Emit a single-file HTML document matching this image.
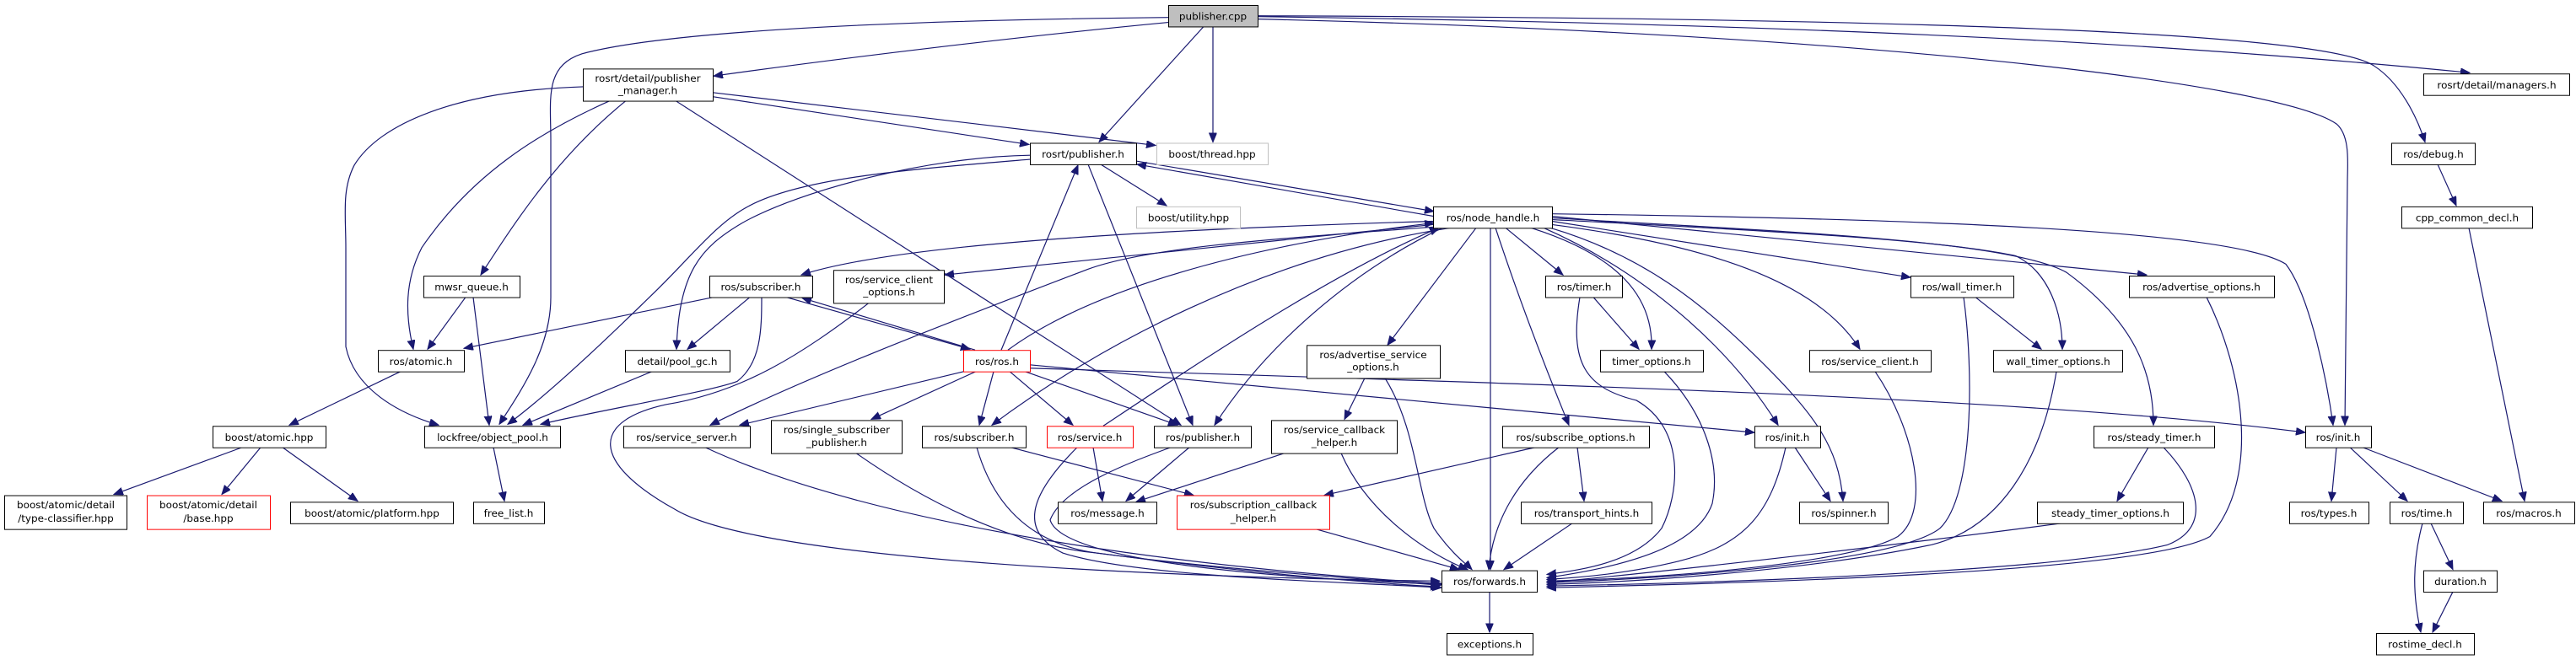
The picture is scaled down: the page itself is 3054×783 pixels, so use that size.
<!DOCTYPE html>
<html><head><meta charset="utf-8"><style>
html,body{margin:0;padding:0;background:#fff;}
svg{display:block;}
text{font-family:"DejaVu Sans","Liberation Sans",sans-serif;font-size:12px;fill:#000;}
.e{fill:none;stroke:#191970;stroke-width:1.2;marker-end:url(#a);}
.n{fill:#fff;stroke:#000;stroke-width:1;}
.r{fill:#fff;stroke:#f00;stroke-width:1;}
.g{fill:#fff;stroke:#bfbfbf;stroke-width:1;}
</style></head><body>
<svg width="3054" height="783" viewBox="0 0 3054 783" xmlns="http://www.w3.org/2000/svg">
<defs><marker id="a" markerUnits="userSpaceOnUse" markerWidth="12" markerHeight="10" refX="11" refY="4.5" orient="auto"><path d="M0,0 L11,4.5 L0,9 z" fill="#191970" stroke="#191970"/></marker></defs>
<g transform="translate(0,6) scale(1,0.979) translate(0,-6)">
<g>
<path class="e" d="M1385,27 C1200,45 1000,70 846,92"/>
<path class="e" d="M1385,21 C1100,24 800,35 690,65 C645,80 653,120 653,170 L653,360 C653,420 620,470 592,514"/>
<path class="e" d="M1427,32 L1303,172"/>
<path class="e" d="M1438,32 L1438,172"/>
<path class="e" d="M1491,20 C2200,30 2600,55 2928,88"/>
<path class="e" d="M1491,19 C2300,22 2760,40 2815,80 C2845,100 2865,140 2875,172"/>
<path class="e" d="M1491,23 C2200,40 2700,100 2770,150 C2787,165 2783,200 2783,220 L2780,515"/>
<path class="e" d="M845,117 L1220,175"/>
<path class="e" d="M845,112 L1370,176"/>
<path class="e" d="M723,122 C640,160 560,210 500,300 C480,340 480,380 490,423"/>
<path class="e" d="M742,122 C660,190 610,270 570,333"/>
<path class="e" d="M691,105 C540,110 450,150 420,200 C405,230 410,260 410,300 L410,420 C420,470 470,500 520,515"/>
<path class="e" d="M801,122 L1400,515"/>
<path class="e" d="M1347,195 L1700,256"/>
<path class="e" d="M1700,262 L1348,199"/>
<path class="e" d="M1221,188 C1100,190 950,230 880,270 C830,300 805,330 802,423"/>
<path class="e" d="M1221,193 C1080,205 950,215 887,250 C850,270 820,310 780,350 C740,390 660,470 602,514"/>
<path class="e" d="M1290,199 L1414,515"/>
<path class="e" d="M1305,199 L1383,249"/>
<path class="e" d="M846,360 L550,422"/>
<path class="e" d="M889,360 L815,423"/>
<path class="e" d="M903,360 C903,400 902,440 874,462 C840,475 720,495 641,514"/>
<path class="e" d="M932,360 L1150,423"/>
<path class="e" d="M1156,424 L951,361"/>
<path class="e" d="M1030,367 C950,430 880,475 790,490 C700,510 700,560 800,617 C900,680 1400,700 1707,704"/>
<path class="e" d="M1699,268 C1300,280 1050,300 950,333"/>
<path class="e" d="M1699,272 L1120,333"/>
<path class="e" d="M1699,275 C1500,290 1360,300 1290,326 C1100,400 950,460 842,515"/>
<path class="e" d="M1195,424 C1280,360 1450,300 1700,270"/>
<path class="e" d="M1720,276 C1500,310 1300,420 1176,515"/>
<path class="e" d="M1710,276 C1600,330 1500,420 1440,515"/>
<path class="e" d="M1308,516 C1420,440 1580,330 1706,276"/>
<path class="e" d="M1750,276 L1645,418"/>
<path class="e" d="M1767,276 L1767,690"/>
<path class="e" d="M1773,276 C1800,360 1830,440 1860,515"/>
<path class="e" d="M1785,276 L1853,333"/>
<path class="e" d="M1815,276 C1920,310 1960,360 1958,423"/>
<path class="e" d="M1830,276 C1950,330 2050,420 2108,515"/>
<path class="e" d="M1838,276 C1950,310 2020,370 2080,430 C2150,500 2180,540 2185,607"/>
<path class="e" d="M1840,272 C2050,300 2160,350 2205,423"/>
<path class="e" d="M1840,268 L2265,336"/>
<path class="e" d="M1840,266 C2100,280 2300,290 2390,310 C2430,330 2445,380 2445,423"/>
<path class="e" d="M1840,264 C2100,280 2380,290 2450,330 C2530,390 2553,450 2553,515"/>
<path class="e" d="M1840,262 L2545,333"/>
<path class="e" d="M1840,259 C2300,265 2650,280 2710,320 C2740,360 2760,470 2766,515"/>
<path class="e" d="M1187,424 L1278,200"/>
<path class="e" d="M1143,450 L877,515"/>
<path class="e" d="M1157,450 L1033,508"/>
<path class="e" d="M1178,450 L1161,515"/>
<path class="e" d="M1197,450 L1272,515"/>
<path class="e" d="M1215,450 L1396,515"/>
<path class="e" d="M1221,442 L2080,524"/>
<path class="e" d="M1221,446 C1800,465 2400,480 2733,524"/>
<path class="e" d="M836,542 C1000,620 1300,680 1707,707"/>
<path class="e" d="M1015,549 C1100,610 1200,660 1300,670 C1450,690 1600,700 1707,709"/>
<path class="e" d="M1158,542 C1180,620 1230,660 1300,670 C1450,690 1600,705 1707,711"/>
<path class="e" d="M1198,542 L1415,600"/>
<path class="e" d="M1296,542 L1307,607"/>
<path class="e" d="M1277,542 C1230,590 1200,640 1260,670 C1350,700 1600,705 1709,712"/>
<path class="e" d="M1410,542 L1335,607"/>
<path class="e" d="M1388,542 C1340,560 1260,590 1245,630 C1260,680 1500,700 1711,708"/>
<path class="e" d="M1523,549 L1347,608"/>
<path class="e" d="M1590,549 C1620,620 1690,670 1740,690"/>
<path class="e" d="M1618,458 L1594,508"/>
<path class="e" d="M1642,458 C1680,520 1680,600 1700,640 C1720,670 1740,685 1745,690"/>
<path class="e" d="M1820,542 L1570,600"/>
<path class="e" d="M1848,542 C1800,580 1770,630 1765,690"/>
<path class="e" d="M1870,542 L1878,607"/>
<path class="e" d="M1864,634 L1783,690"/>
<path class="e" d="M1560,641 L1730,690"/>
<path class="e" d="M1889,360 L1943,423"/>
<path class="e" d="M1873,360 C1860,440 1880,470 1940,485 C2000,520 1990,600 1970,640 C1940,680 1880,690 1834,696"/>
<path class="e" d="M1973,450 C2020,500 2040,560 2030,610 C2010,670 1900,690 1834,700"/>
<path class="e" d="M2128,542 L2170,607"/>
<path class="e" d="M2117,542 C2100,620 2070,660 1990,680 C1930,695 1870,700 1834,702"/>
<path class="e" d="M2223,450 C2270,520 2290,620 2250,650 C2200,680 2000,700 1834,704"/>
<path class="e" d="M2342,360 L2420,423"/>
<path class="e" d="M2328,360 C2340,450 2340,600 2300,640 C2250,680 2000,700 1834,706"/>
<path class="e" d="M2438,450 C2420,560 2370,640 2290,660 C2150,690 1950,705 1834,708"/>
<path class="e" d="M2547,542 L2510,607"/>
<path class="e" d="M2565,542 C2610,590 2620,640 2570,660 C2450,690 2100,705 1834,710"/>
<path class="e" d="M2444,634 C2250,660 2000,690 1834,706"/>
<path class="e" d="M2616,360 C2660,450 2680,580 2620,650 C2550,690 2150,705 1834,712"/>
<path class="e" d="M2890,199 L2912,249"/>
<path class="e" d="M2927,276 L2993,607"/>
<path class="e" d="M2770,542 L2764,607"/>
<path class="e" d="M2786,542 L2854,607"/>
<path class="e" d="M2801,542 L2966,607"/>
<path class="e" d="M2882,634 L2908,690"/>
<path class="e" d="M2872,634 C2860,680 2860,720 2870,766"/>
<path class="e" d="M2908,717 L2884,766"/>
<path class="e" d="M1766,717 L1766,766"/>
<path class="e" d="M552,360 L507,423"/>
<path class="e" d="M561,360 L580,515"/>
<path class="e" d="M475,450 L343,515"/>
<path class="e" d="M287,542 L135,599"/>
<path class="e" d="M309,542 L263,599"/>
<path class="e" d="M335,542 L424,607"/>
<path class="e" d="M585,542 L598,607"/>
<path class="e" d="M773,450 L620,515"/>
</g>
<g>
<rect x="1385.5" y="6.5" width="106" height="26" fill="#bfbfbf" stroke="#000"/><text x="1438" y="24" text-anchor="middle">publisher.cpp</text>
<rect class="n" x="691.5" y="83.5" width="154" height="39"/><text x="768" y="99" text-anchor="middle">rosrt/detail/publisher</text><text x="768" y="114" text-anchor="middle">_manager.h</text>
<rect class="n" x="2873.5" y="89.5" width="173" height="26"/><text x="2960" y="107" text-anchor="middle">rosrt/detail/managers.h</text>
<rect class="n" x="1221.5" y="173.5" width="126" height="26"/><text x="1284" y="191" text-anchor="middle">rosrt/publisher.h</text>
<rect class="g" x="1371.5" y="173.5" width="132" height="26"/><text x="1437" y="191" text-anchor="middle">boost/thread.hpp</text>
<rect class="n" x="2835.5" y="173.5" width="99" height="26"/><text x="2885" y="191" text-anchor="middle">ros/debug.h</text>
<rect class="n" x="1699.5" y="250.5" width="141" height="26"/><text x="1770" y="268" text-anchor="middle">ros/node_handle.h</text>
<rect class="g" x="1347.5" y="250.5" width="123" height="26"/><text x="1409" y="268" text-anchor="middle">boost/utility.hpp</text>
<rect class="n" x="2847.5" y="250.5" width="155" height="26"/><text x="2925" y="268" text-anchor="middle">cpp_common_decl.h</text>
<rect class="n" x="502.5" y="334.5" width="114" height="26"/><text x="559" y="352" text-anchor="middle">mwsr_queue.h</text>
<rect class="n" x="841.5" y="334.5" width="122" height="26"/><text x="902" y="352" text-anchor="middle">ros/subscriber.h</text>
<rect class="n" x="988.5" y="327.5" width="131" height="40"/><text x="1054" y="343" text-anchor="middle">ros/service_client</text><text x="1054" y="358" text-anchor="middle">_options.h</text>
<rect class="n" x="1832.5" y="334.5" width="91" height="26"/><text x="1878" y="352" text-anchor="middle">ros/timer.h</text>
<rect class="n" x="2265.5" y="334.5" width="122" height="26"/><text x="2326" y="352" text-anchor="middle">ros/wall_timer.h</text>
<rect class="n" x="2524.5" y="334.5" width="172" height="26"/><text x="2610" y="352" text-anchor="middle">ros/advertise_options.h</text>
<rect class="n" x="448.5" y="424.5" width="102" height="26"/><text x="499" y="442" text-anchor="middle">ros/atomic.h</text>
<rect class="n" x="741.5" y="424.5" width="124" height="26"/><text x="803" y="442" text-anchor="middle">detail/pool_gc.h</text>
<rect class="r" x="1142.5" y="424.5" width="79" height="26"/><text x="1182" y="442" text-anchor="middle">ros/ros.h</text>
<rect class="n" x="1549.5" y="418.5" width="158" height="40"/><text x="1628" y="434" text-anchor="middle">ros/advertise_service</text><text x="1628" y="449" text-anchor="middle">_options.h</text>
<rect class="n" x="1897.5" y="424.5" width="122" height="26"/><text x="1958" y="442" text-anchor="middle">timer_options.h</text>
<rect class="n" x="2145.5" y="424.5" width="144" height="26"/><text x="2217" y="442" text-anchor="middle">ros/service_client.h</text>
<rect class="n" x="2363.5" y="424.5" width="153" height="26"/><text x="2440" y="442" text-anchor="middle">wall_timer_options.h</text>
<rect class="n" x="252.5" y="516.5" width="134" height="26"/><text x="319" y="534" text-anchor="middle">boost/atomic.hpp</text>
<rect class="n" x="503.5" y="516.5" width="161" height="26"/><text x="584" y="534" text-anchor="middle">lockfree/object_pool.h</text>
<rect class="n" x="739.5" y="516.5" width="150" height="26"/><text x="814" y="534" text-anchor="middle">ros/service_server.h</text>
<rect class="n" x="914.5" y="509.5" width="155" height="40"/><text x="992" y="525" text-anchor="middle">ros/single_subscriber</text><text x="992" y="540" text-anchor="middle">_publisher.h</text>
<rect class="n" x="1093.5" y="516.5" width="123" height="26"/><text x="1155" y="534" text-anchor="middle">ros/subscriber.h</text>
<rect class="r" x="1241.5" y="516.5" width="102" height="26"/><text x="1292" y="534" text-anchor="middle">ros/service.h</text>
<rect class="n" x="1368.5" y="516.5" width="115" height="26"/><text x="1426" y="534" text-anchor="middle">ros/publisher.h</text>
<rect class="n" x="1507.5" y="509.5" width="149" height="40"/><text x="1582" y="525" text-anchor="middle">ros/service_callback</text><text x="1582" y="540" text-anchor="middle">_helper.h</text>
<rect class="n" x="1781.5" y="516.5" width="174" height="26"/><text x="1868" y="534" text-anchor="middle">ros/subscribe_options.h</text>
<rect class="n" x="2080.5" y="516.5" width="78" height="26"/><text x="2119" y="534" text-anchor="middle">ros/init.h</text>
<rect class="n" x="2482.5" y="516.5" width="143" height="26"/><text x="2554" y="534" text-anchor="middle">ros/steady_timer.h</text>
<rect class="n" x="2733.5" y="516.5" width="78" height="26"/><text x="2772" y="534" text-anchor="middle">ros/init.h</text>
<rect class="n" x="5.5" y="600.5" width="145" height="41"/><text x="78" y="616" text-anchor="middle">boost/atomic/detail</text><text x="78" y="632" text-anchor="middle">/type-classifier.hpp</text>
<rect class="r" x="174.5" y="600.5" width="146" height="41"/><text x="247" y="616" text-anchor="middle">boost/atomic/detail</text><text x="247" y="632" text-anchor="middle">/base.hpp</text>
<rect class="n" x="344.5" y="608.5" width="193" height="26"/><text x="441" y="626" text-anchor="middle">boost/atomic/platform.hpp</text>
<rect class="n" x="561.5" y="608.5" width="84" height="26"/><text x="603" y="626" text-anchor="middle">free_list.h</text>
<rect class="n" x="1254.5" y="608.5" width="117" height="26"/><text x="1313" y="626" text-anchor="middle">ros/message.h</text>
<rect class="r" x="1395.5" y="600.5" width="181" height="41"/><text x="1486" y="616" text-anchor="middle">ros/subscription_callback</text><text x="1486" y="632" text-anchor="middle">_helper.h</text>
<rect class="n" x="1803.5" y="608.5" width="155" height="26"/><text x="1881" y="626" text-anchor="middle">ros/transport_hints.h</text>
<rect class="n" x="2133.5" y="608.5" width="105" height="26"/><text x="2186" y="626" text-anchor="middle">ros/spinner.h</text>
<rect class="n" x="2415.5" y="608.5" width="173" height="26"/><text x="2502" y="626" text-anchor="middle">steady_timer_options.h</text>
<rect class="n" x="2714.5" y="608.5" width="94" height="26"/><text x="2761" y="626" text-anchor="middle">ros/types.h</text>
<rect class="n" x="2833.5" y="608.5" width="87" height="26"/><text x="2877" y="626" text-anchor="middle">ros/time.h</text>
<rect class="n" x="2944.5" y="608.5" width="108" height="26"/><text x="2998" y="626" text-anchor="middle">ros/macros.h</text>
<rect class="n" x="1709.5" y="691.5" width="113" height="26"/><text x="1766" y="709" text-anchor="middle">ros/forwards.h</text>
<rect class="n" x="2873.5" y="691.5" width="87" height="26"/><text x="2917" y="709" text-anchor="middle">duration.h</text>
<rect class="n" x="1715.5" y="767.5" width="102" height="26"/><text x="1766" y="785" text-anchor="middle">exceptions.h</text>
<rect class="n" x="2817.5" y="767.5" width="116" height="26"/><text x="2875" y="785" text-anchor="middle">rostime_decl.h</text>
</g>
</g>
</svg>
</body></html>
